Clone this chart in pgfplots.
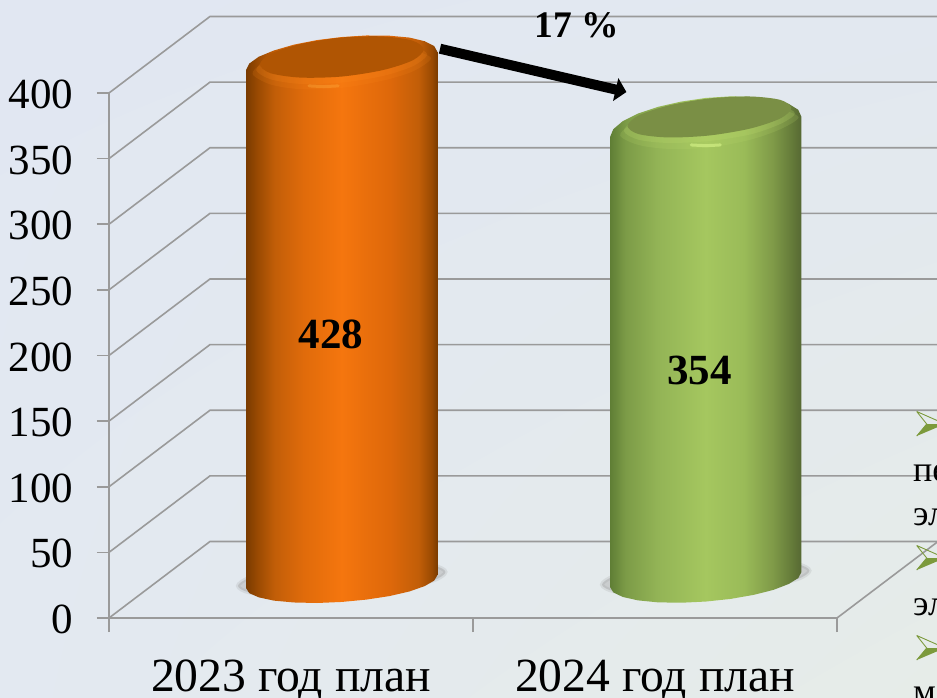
\documentclass[border=0pt]{standalone}
\usepackage{fontspec}
\setmainfont{Liberation Serif}
\usepackage{pgfplots}
\pgfplotsset{compat=1.18}
\usetikzlibrary{arrows.meta,shadings}

\definecolor{gridc}{HTML}{9A9A9A}
\definecolor{oa}{HTML}{7A3B00}\definecolor{ob}{HTML}{9A4A02}\definecolor{oc}{HTML}{C25E08}
\definecolor{od}{HTML}{E06B0B}\definecolor{oe}{HTML}{F5760E}\definecolor{of}{HTML}{DE680A}
\definecolor{ga}{HTML}{5F7E35}\definecolor{gb}{HTML}{7C9B47}\definecolor{gc}{HTML}{93B456}
\definecolor{gd}{HTML}{A5C75F}\definecolor{ge}{HTML}{9ABB58}\definecolor{gf}{HTML}{7F9A48}
\definecolor{gg}{HTML}{647A39}\definecolor{gh}{HTML}{566833}
\definecolor{bullet}{HTML}{7C9A3C}
\definecolor{bgul}{RGB}{225,231,242}\definecolor{bgur}{RGB}{226,232,240}
\definecolor{bgll}{RGB}{227,233,241}\definecolor{bglr}{RGB}{230,236,232}
\definecolor{ocap}{RGB}{176,85,3}\definecolor{gcap}{RGB}{122,143,69}
\definecolor{oglow}{RGB}{255,140,30}\definecolor{oglowb}{RGB}{255,176,64}
\definecolor{gglow}{RGB}{190,220,110}\definecolor{gglowb}{RGB}{216,245,138}

\pgfdeclarehorizontalshading{orangecyl}{100bp}{color(0bp)=(oa); color(25bp)=(oa); color(28bp)=(ob);
  color(32.5bp)=(oc); color(40bp)=(od); color(50bp)=(oe); color(62.5bp)=(of); color(70bp)=(oc);
  color(73.5bp)=(ob); color(75bp)=(oa); color(100bp)=(oa)}
\pgfdeclarehorizontalshading{greencyl}{100bp}{color(0bp)=(ga); color(25bp)=(ga); color(29bp)=(gb);
  color(37.5bp)=(gc); color(50bp)=(gd); color(60bp)=(ge); color(67.5bp)=(gf);
  color(72.5bp)=(gg); color(75bp)=(gh); color(100bp)=(gh)}

\tikzset{wall/.style={draw=gridc, solid, line width=1.6pt, no marks}}

\begin{document}
\begin{tikzpicture}[x=1pt,y=1pt]
\path[use as bounding box] (0,0) rectangle (937,697);
\clip (0,0) rectangle (937,697);
\shade[upper left=bgul,upper right=bgur,lower left=bgll,lower right=bglr] (0,0) rectangle (937,697);

% front plane: ticks, labels and the grid running along the walls
\begin{axis}[
  at={(109pt,79pt)}, anchor=south west, scale only axis,
  width=728pt, height=525pt,
  xmin=0, xmax=2, ymin=0, ymax=400, clip=false,
  axis lines=left, axis line style={draw=gridc, line width=1.6pt, -},
  xtick={0.5,1.5}, xticklabels={2023 год план,2024 год план},
  minor xtick={0,1,2}, ytick={0,50,...,400},
  tick align=outside, major x tick style={draw=none},
  minor x tick style={draw=gridc, line width=1.6pt},
  y tick style={draw=gridc, line width=1.6pt},
  major tick length=12pt, minor tick length=14pt,
  /pgf/number format/assume math mode=true,
  yticklabel style={font=\fontsize{43}{43}\selectfont, xshift=-20pt, yshift=-1.5pt},
  xticklabel style={font=\fontsize{47.6}{47.6}\selectfont, yshift=-26pt},
]
\addplot[wall] coordinates {(0,0) (0.2775,58.3) (2.2775,58.3)};
\addplot[wall] coordinates {(0,50) (0.2775,108.3) (2.2775,108.3)};
\addplot[wall] coordinates {(0,100) (0.2775,158.3) (2.2775,158.3)};
\addplot[wall] coordinates {(0,150) (0.2775,208.3) (2.2775,208.3)};
\addplot[wall] coordinates {(0,200) (0.2775,258.3) (2.2775,258.3)};
\addplot[wall] coordinates {(0,250) (0.2775,308.3) (2.2775,308.3)};
\addplot[wall] coordinates {(0,300) (0.2775,358.3) (2.2775,358.3)};
\addplot[wall] coordinates {(0,350) (0.2775,408.3) (2.2775,408.3)};
\addplot[wall] coordinates {(0,400) (0.2775,458.3) (2.2775,458.3)};
\addplot[wall] coordinates {(2,0) (2.2775,58.3)};
\end{axis}

% mid-depth plane: the two cylinders (428 runs past the axis top, so it stops at about 400)
\begin{axis}[
  at={(159.75pt,115pt)}, anchor=south west, scale only axis,
  width=728pt, height=525pt,
  xmin=0, xmax=2, ymin=0, ymax=400, clip=false, hide axis,
]
% floor shadows
\addplot[fill=gray!60, draw=gray, fill opacity=0.5, draw opacity=0.15, line width=4pt, smooth cycle, mark=none] coordinates {
  (.785,7.6) (.751,12.6) (.645,14.9) (.5,13.7) (.355,9.5) (.249,3.4)
  (.215,-3) (.249,-8.1) (.355,-10.3) (.5,-9.1) (.645,-5) (.751,1.2)};
\addplot[fill=gray!60, draw=gray, fill opacity=0.5, draw opacity=0.15, line width=4pt, smooth cycle, mark=none] coordinates {
  (1.785,8.6) (1.751,13.6) (1.645,15.9) (1.5,14.7) (1.355,10.5) (1.249,4.4)
  (1.215,-2) (1.249,-7.1) (1.355,-9.3) (1.5,-8.1) (1.645,-4) (1.751,2.2)};

% 2023: 428
\addplot[shading=orangecyl, draw=none, mark=none] coordinates {
  (.763,403.8) (.754,408.3) (.728,412.0) (.686,414.8) (.6315,416.2) (.568,416.4) (.5,415.2)
  (.432,412.9) (.3685,409.4) (.314,405.0) (.272,400.2) (.246,395.0) (.237,390.1)
  (.237,-4.6) (.246,-8.5) (.272,-11.7) (.314,-14.2) (.3685,-15.6) (.432,-16) (.5,-15.2)
  (.568,-13.4) (.6315,-10.7) (.686,-7.2) (.728,-3.1) (.754,1.1) (.763,5.3)} --cycle;
% soft rim under the cap: the cap outline a little lower, twice
\addplot[fill=oglow, draw=none, fill opacity=0.14, smooth cycle, mark=none] coordinates {
  (.745,399) (.695,405) (.6125,408) (.5,407) (.3875,402) (.285,395)
  (.255,387) (.305,379) (.3875,375.5) (.5,376.5) (.6125,382) (.695,389)};
\addplot[fill=oglow, draw=none, fill opacity=0.18, smooth cycle, mark=none] coordinates {
  (.735,402) (.695,408) (.6125,411) (.5,410.5) (.3875,405.5) (.295,398)
  (.265,390) (.305,383) (.3875,379.5) (.5,380.5) (.6125,385.5) (.695,393)};
\addplot[color=oglowb, opacity=0.35, line width=3pt, smooth, mark=none, line cap=round] coordinates {
  (.41,378) (.45,377.5) (.49,378)};
\addplot[fill=ocap, draw=none, smooth cycle, mark=none] coordinates {
  (.725,405.7) (.695,412.4) (.6125,415.7) (.5,414.9) (.3875,410.0) (.305,402.5)
  (.275,394.3) (.305,387.6) (.3875,384.3) (.5,385.1) (.6125,390.0) (.695,397.5)};

% 2024: 354
\addplot[shading=greencyl, draw=none, mark=none] coordinates {
  (1.763,354.3) (1.754,359.8) (1.728,364.3) (1.686,367.7) (1.6315,369.6) (1.568,370) (1.5,368.8)
  (1.432,366) (1.3685,362) (1.314,356.9) (1.272,351.1) (1.246,345) (1.237,339)
  (1.237,-3.8) (1.246,-7.9) (1.272,-11.4) (1.314,-14) (1.3685,-15.5) (1.432,-15.8) (1.5,-14.9)
  (1.568,-12.9) (1.6315,-9.8) (1.686,-6) (1.728,-1.5) (1.754,3) (1.763,7.6)} --cycle;
\addplot[fill=gglow, draw=none, fill opacity=0.16, smooth cycle, mark=none] coordinates {
  (1.755,354) (1.705,360) (1.6225,362) (1.51,361) (1.3975,356) (1.295,348)
  (1.265,340) (1.315,333) (1.3975,330) (1.51,331) (1.6225,337) (1.705,345)};
\addplot[fill=gglow, draw=none, fill opacity=0.22, smooth cycle, mark=none] coordinates {
  (1.745,357) (1.705,363) (1.6225,366) (1.51,364.5) (1.3975,359) (1.305,351.5)
  (1.275,343.5) (1.315,337) (1.3975,334.5) (1.51,336) (1.6225,341) (1.705,349)};
\addplot[color=gglowb, opacity=0.6, line width=3pt, smooth, mark=none, line cap=round] coordinates {
  (1.46,333) (1.5,332.5) (1.54,333)};
\addplot[fill=gcap, draw=none, smooth cycle, mark=none] coordinates {
  (1.735,361.1) (1.705,367.3) (1.6225,369.9) (1.51,368.4) (1.3975,363.0) (1.315,355.4)
  (1.285,347.4) (1.315,341.3) (1.3975,338.7) (1.51,340.2) (1.6225,345.5) (1.705,353.2)};

% change arrow
\addplot[black, line width=10pt, mark=none, -{Triangle[length=11pt,width=23pt]}] coordinates {(.770,406.3) (1.282,373.3)};

\node[font=\fontsize{43}{43}\selectfont\bfseries] at (axis cs:.471,189) {428};
\node[font=\fontsize{43}{43}\selectfont\bfseries] at (axis cs:1.483,161.5) {354};
\node[font=\fontsize{37.5}{37.5}\selectfont\bfseries] at (axis cs:1.146,424.4) {17 \%};
\end{axis}

% cut-off text list at the right edge
\foreach \yy in {261,127,37}{
  \fill[bullet] (916.7,\yy) -- (926.7,\yy+12) -- (945,\yy+12) -- cycle;
  \draw[bullet, line width=0.9pt] (916.7,\yy+24.5) -- (926.7,\yy+12) -- (916.7,\yy) (916.7,\yy+24.5) -- (945,\yy+12);
}
\begin{scope}[every node/.style={anchor=base west, inner sep=0pt, font=\fontsize{36}{36}\selectfont}]
\node at (913,216) {пе};
\node at (913,172) {эл};
\node at (913,82) {эл};
\node at (913,-6) {м};
\end{scope}
\end{tikzpicture}
\end{document}
